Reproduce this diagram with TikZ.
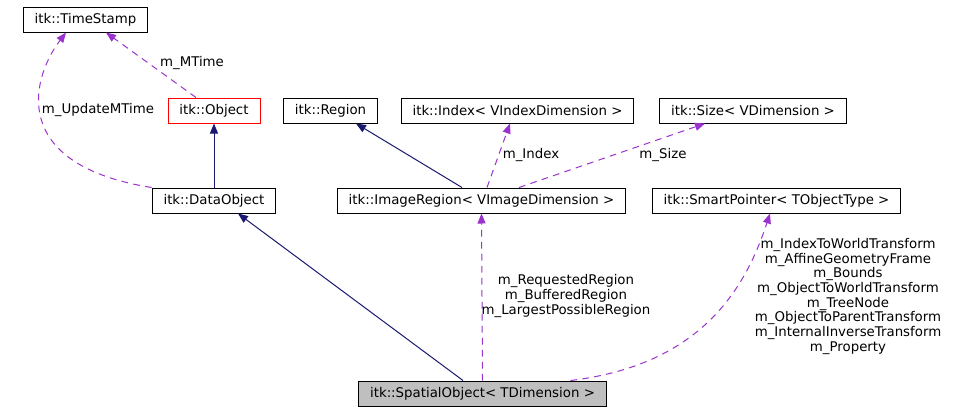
\documentclass[tikz,border=0pt]{standalone}
\usepackage{fontspec}
\setmainfont{DejaVu Sans}
\usepackage{tikz}
\usetikzlibrary{arrows.meta,calc}

\definecolor{edgeblue}{HTML}{191970}
\definecolor{edgepurple}{HTML}{9A32CD}
\definecolor{boxgray}{HTML}{BFBFBF}

\begin{document}
\begin{tikzpicture}[x=0.75pt, y=-0.75pt, font=\fontsize{10}{11}\selectfont,
                    cls/.style={draw, line width=0.75pt, inner xsep=8.6pt, inner ysep=0pt, minimum height=18.75pt},
                    lbl/.style={align=center, inner sep=0pt},
                    inherit/.style={draw=edgeblue, line width=0.75pt, -{Triangle[length=7.5pt,width=6pt]}},
                    member/.style={draw=edgepurple, line width=0.75pt, dash pattern=on 5pt off 4pt, -{Triangle[length=7.5pt,width=6pt]}}]
        \useasboundingbox (0,0) rectangle (971,411);

        % classes
        \node[cls] (ts) at (85.5,19.5) {itk::TimeStamp};
        \node[cls, draw=red] (obj) at (214,110.5) {itk::Object};
        \node[cls] (reg) at (330.5,110.5) {itk::Region};
        \node[cls] (idx) at (517.5,110.5) {itk::Index< VIndexDimension >};
        \node[cls] (size) at (753,110.5) {itk::Size< VDimension >};
        \node[cls] (dobj) at (214,200.5) {itk::DataObject};
        \node[cls] (imreg) at (481.5,200.5) {itk::ImageRegion< VImageDimension >};
        \node[cls] (sptr) at (776.5,200.5) {itk::SmartPointer< TObjectType >};
        \node[cls, fill=boxgray] (spobj) at (482.5,393.5) {itk::SpatialObject< TDimension >};

        % inheritance
        \draw[inherit] (dobj.north) -- (obj.south);
        \draw[inherit] ($(spobj.north)+(-19.5,0)$) -- ($(dobj.south)+(24,0)$);
        \draw[inherit] ($(imreg.north)+(-19.5,0)$) -- ($(reg.south)+(25.5,0)$);

        % members
        \draw[member] (dobj.north west) .. controls (10,165) and (30,80) .. ($(ts.south)+(-19.5,0)$);
        \draw[member] ($(obj.north)+(-18,0)$) -- ($(ts.south)+(20.5,0)$);
        \draw[member] ($(imreg.north)+(5.5,0)$) -- ($(idx.south)+(-7.5,0)$);
        \draw[member] ($(imreg.north)+(37.5,0)$) -- ($(size.south)+(-48,0)$);
        \draw[member] (spobj.north) -- (imreg.south);
        \draw[member] ($(spobj.north)+(88,0)$) .. controls (700,365) and (745,290) .. ($(sptr.south)+(-6.5,0)$);

        % member names
        \node[lbl] (lupdate) at (98,110) {m\_UpdateMTime};
        \node[lbl] (lmtime) at (192,63) {m\_MTime};
        \node[lbl] (lindex) at (531,155) {m\_Index};
        \node[lbl] (lsize) at (663,155) {m\_Size};
        \node[lbl] (lregion) at (566,296) {m\_RequestedRegion\\m\_BufferedRegion\\m\_LargestPossibleRegion};
        \node[lbl] (lsptr) at (848,296.5) {m\_IndexToWorldTransform\\m\_AffineGeometryFrame\\m\_Bounds\\m\_ObjectToWorldTransform\\m\_TreeNode\\m\_ObjectToParentTransform\\m\_InternalInverseTransform\\m\_Property};
\end{tikzpicture}
\end{document}
